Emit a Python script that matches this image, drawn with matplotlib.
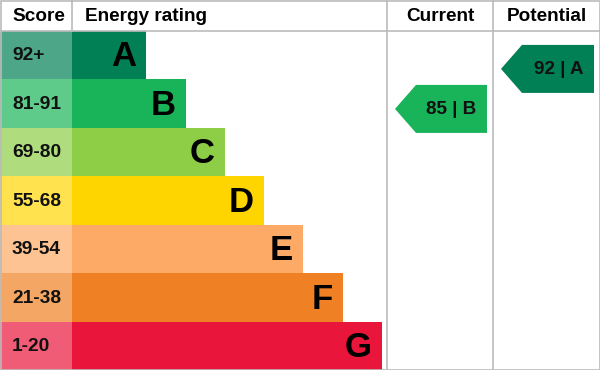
import matplotlib
matplotlib.use("Agg")
import matplotlib.pyplot as plt
from matplotlib.patches import Rectangle, Polygon
from matplotlib.colors import to_rgb

# ---- data ----
bands = ["A", "B", "C", "D", "E", "F", "G"]
score_ranges = ["92+", "81-91", "69-80", "55-68", "39-54", "21-38", "1-20"]
band_colors = ["#008054", "#19b459", "#8dce46", "#ffd500", "#fcaa65", "#ef8023", "#e9153b"]
bar_lengths = [74, 114, 153, 192, 231, 271, 310]
headers = ["Score", "Energy rating", "Current", "Potential"]
current_score, current_band = 85, "B"
potential_score, potential_band = 92, "A"

# ---- layout ----
W, H = 600, 370
header_h = 30.5
row_h = (H - header_h) / len(bands)
score_w = 72
col_cur = (387, 493)
col_pot = (493, 600)
grid_col = "#bbbbbb"
font = "Liberation Sans"

fig = plt.figure(figsize=(6, 3.7), dpi=100)
ax = fig.add_axes([0, 0, 1, 1])
ax.set_xlim(0, W)
ax.set_ylim(H, 0)
ax.axis("off")


def lighten(c, f=0.3):
    r, g, b = to_rgb(c)
    return (r + (1 - r) * f, g + (1 - g) * f, b + (1 - b) * f)


for i, (band, rng, col, L) in enumerate(zip(bands, score_ranges, band_colors, bar_lengths)):
    y0 = header_h + i * row_h
    ax.add_patch(Rectangle((0, y0), score_w, row_h, facecolor=lighten(col), edgecolor="none"))
    ax.add_patch(Rectangle((score_w, y0), L, row_h, facecolor=col, edgecolor="none"))
    ax.text(12, y0 + row_h / 2 + 1, rng, ha="left", va="center", fontsize=13.8,
            fontweight="bold", family=font, color="#111111")
    ax.text(score_w + L - 10, y0 + row_h / 2 + 2, band, ha="right", va="center",
            fontsize=25, fontweight="bold", family=font, color="#000000")

# grid lines
lw = 1.2
ax.plot([0, W], [header_h, header_h], color=grid_col, lw=lw)
for x in (score_w, col_cur[0], col_pot[0]):
    ax.plot([x, x], [0, H if x != score_w else header_h], color=grid_col, lw=lw)
ax.add_patch(Rectangle((0.5, 0.5), W - 1, H - 1, facecolor="none", edgecolor=grid_col, lw=lw))

# headers
hy = header_h / 2 + 1
hfs = 13.7
ax.text(12, hy, headers[0], ha="left", va="center", fontsize=hfs, fontweight="bold", family=font)
ax.text(85, hy, headers[1], ha="left", va="center", fontsize=hfs, fontweight="bold", family=font)
ax.text(sum(col_cur) / 2, hy, headers[2], ha="center", va="center", fontsize=hfs,
        fontweight="bold", family=font)
ax.text(sum(col_pot) / 2, hy, headers[3], ha="center", va="center", fontsize=hfs,
        fontweight="bold", family=font)


def score_to_y(s):
    return 594.6 - 5.714 * s


def arrow(col, score, band):
    x0, x1 = col
    yc = score_to_y(score)
    h = 48
    tip = x0 + 8
    body = tip + 21
    right = x1 - 6
    c = band_colors[bands.index(band)]
    ax.add_patch(Polygon([(tip, yc), (body, yc - h / 2), (right, yc - h / 2),
                          (right, yc + h / 2), (body, yc + h / 2)],
                         closed=True, facecolor=c, edgecolor="none"))
    ax.text(right - 11, yc + 1, f"{score} | {band}", ha="right", va="center",
            fontsize=13.6, fontweight="bold", family=font, color="#111111")


arrow(col_cur, current_score, current_band)
arrow(col_pot, potential_score, potential_band)

fig.savefig("out.png", dpi=100)
